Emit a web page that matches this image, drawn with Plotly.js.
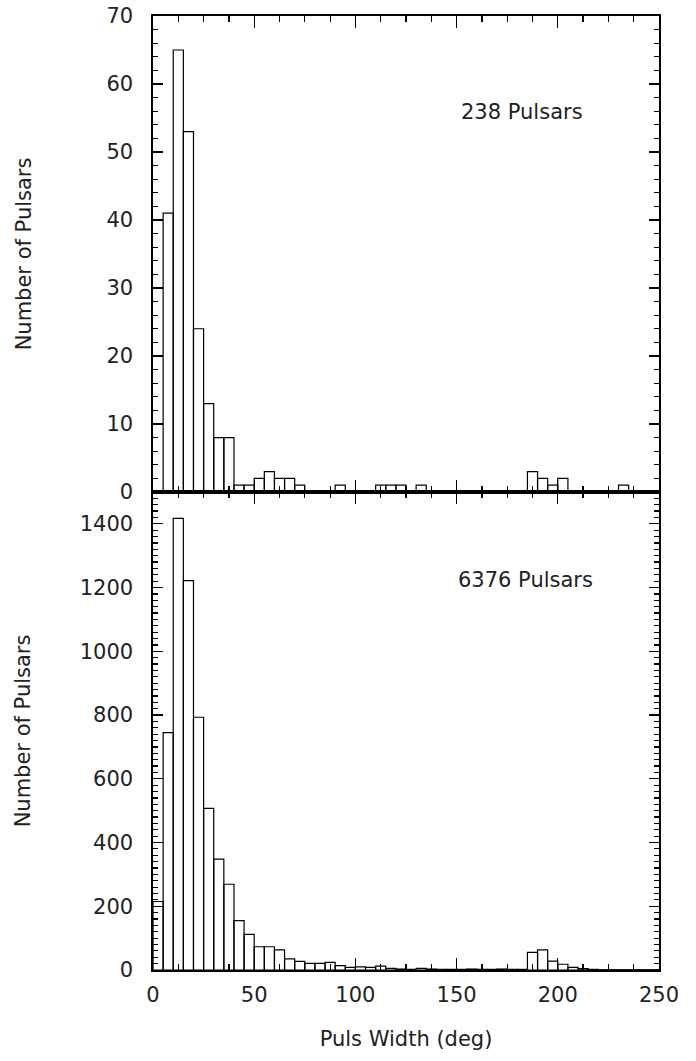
<!DOCTYPE html>
<html>
<head>
<meta charset="utf-8">
<script src="https://cdn.plot.ly/plotly-3.0.1.min.js"></script>
<style>html,body{margin:0;padding:0;background:#fff;}#chart{width:696px;height:1061px;}</style>
</head>
<body>
<div id="chart"></div>
<script>
// Bin centres (deg), bins 5 deg wide, 0..250
var binCenters = [];
for (var i = 0; i < 50; i++) binCenters.push(2.5 + 5 * i);

// Top panel: 238 pulsars
var countsTop = [0, 41, 65, 53, 24, 13, 8, 8, 1, 1,
                 2, 3, 2, 2, 1, 0, 0, 0, 1, 0,
                 0, 0, 1, 1, 1, 0, 1, 0, 0, 0,
                 0, 0, 0, 0, 0, 0, 0, 3, 2, 1,
                 2, 0, 0, 0, 0, 0, 1, 0, 0, 0];

// Bottom panel: 6376 pulsars
var countsBottom = [215, 745, 1417, 1222, 793, 507, 348, 269, 155, 112,
                    73, 73, 63, 35, 27, 21, 21, 24, 14, 8,
                    10, 8, 12, 5, 3, 2, 5, 3, 2, 2,
                    2, 3, 2, 2, 3, 2, 2, 55, 63, 28,
                    18, 8, 4, 2, 1, 1, 1, 1, 1, 1];

var labelTop = "238 Pulsars";
var labelBottom = "6376 Pulsars";
var xTitle = "Puls Width (deg)";
var yTitle = "Number of Pulsars";

var font = {family: "DejaVu Sans, sans-serif", size: 21, color: "#222"};
var barStyle = {color: "rgba(0,0,0,0)", line: {color: "#000", width: 1.2}};

var traces = [
  {type: "bar", x: binCenters, y: countsBottom, width: 5, marker: barStyle, xaxis: "x", yaxis: "y", hoverinfo: "x+y"},
  {type: "bar", x: binCenters, y: countsTop, width: 5, marker: barStyle, xaxis: "x2", yaxis: "y2", hoverinfo: "x+y"}
];

var commonAxis = {
  showline: true, linecolor: "#000", linewidth: 1.6, mirror: "ticks",
  ticks: "inside", tickcolor: "#000", tickwidth: 1.2,
  showgrid: false, zeroline: false, fixedrange: true
};
function ax(extra) { return Object.assign({}, commonAxis, extra); }

var layout = {
  width: 696, height: 1061,
  margin: {l: 153, r: 37, t: 16, b: 91},
  paper_bgcolor: "#fff", plot_bgcolor: "#fff",
  showlegend: false, bargap: 0, font: font,
  xaxis: ax({anchor: "y", domain: [0, 1], range: [0, 250], dtick: 50, ticklen: 12,
    minor: {dtick: 12.5, ticklen: 6, ticks: "inside", tickcolor: "#000", tickwidth: 1.2},
    ticklabelstandoff: 5,
    title: {text: xTitle, font: font, standoff: 25}}),
  xaxis2: ax({anchor: "y2", domain: [0, 1], range: [0, 250], dtick: 50, ticklen: 12,
    minor: {dtick: 12.5, ticklen: 6, ticks: "inside", tickcolor: "#000", tickwidth: 1.2},
    showticklabels: false}),
  yaxis: ax({anchor: "x", domain: [0, 0.5011], range: [0, 1500], dtick: 200, ticklen: 10,
    minor: {dtick: 20, ticklen: 5, ticks: "inside", tickcolor: "#000", tickwidth: 1.2},
    ticklabelstandoff: 14,
    title: {text: yTitle, font: font, standoff: 43}}),
  yaxis2: ax({anchor: "x2", domain: [0.5011, 1], range: [0, 70], dtick: 10, ticklen: 10,
    minor: {dtick: 2, ticklen: 5, ticks: "inside", tickcolor: "#000", tickwidth: 1.2},
    ticklabelstandoff: 14,
    title: {text: yTitle, font: font, standoff: 69}}),
  annotations: [
    {text: labelTop, xref: "x2", yref: "y2", x: 182.5, y: 55.9, showarrow: false, font: font},
    {text: labelBottom, xref: "x", yref: "y", x: 184, y: 1224, showarrow: false, font: font}
  ]
};

Plotly.newPlot("chart", traces, layout, {displayModeBar: false, staticPlot: true});
</script>
</body>
</html>
